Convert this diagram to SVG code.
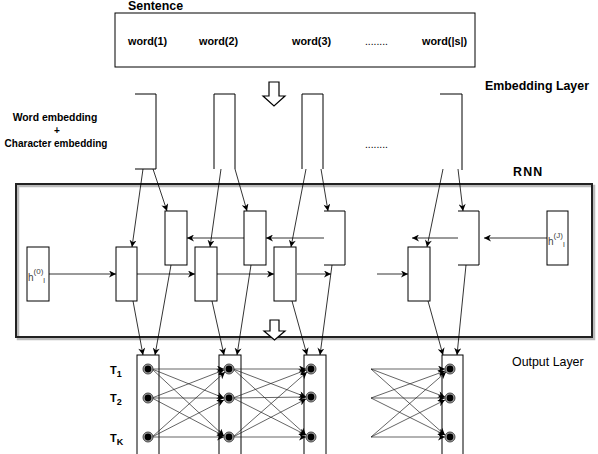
<svg xmlns="http://www.w3.org/2000/svg" width="598" height="454" viewBox="0 0 598 454">
<style>
.b{fill:none;stroke:#000;stroke-width:1}
.t{font-family:"Liberation Sans",Arial,sans-serif;font-weight:bold;fill:#000}
.r{font-family:"Liberation Sans",Arial,sans-serif;fill:#000}
.h{font-family:"Liberation Sans",Arial,sans-serif;fill:#444;font-size:10px}
.c line{stroke:#000;stroke-width:0.8;marker-end:url(#ah)}
.x line{stroke:#222;stroke-width:0.7;marker-end:url(#ah)}
.hol{fill:#fff;stroke:#000;stroke-width:1.2}
</style>
<defs>
<marker id="ah" viewBox="0 0 10 10" refX="10" refY="5" markerWidth="8" markerHeight="7" orient="auto" markerUnits="userSpaceOnUse">
<path d="M0,0 L10,5 L0,10 L3,5 z" fill="#000"/>
</marker>
<g id="nd"><circle r="5" fill="#aaa" stroke="#222" stroke-width="0.8"/><circle r="3.4" fill="#000"/></g>
</defs>
<rect width="598" height="454" fill="#fff"/>

<g id="sentence">
<text class="t" x="128" y="10" font-size="12.4">Sentence</text>
<rect class="b" x="115" y="13" width="360" height="54"/>
<text class="t" x="128" y="45" font-size="10.8">word(1)</text>
<text class="t" x="199" y="45" font-size="10.8">word(2)</text>
<text class="t" x="292" y="45" font-size="10.8">word(3)</text>
<text class="r" x="365" y="45" font-size="10.3">........</text>
<text class="t" x="422" y="45" font-size="10.8">word(|s|)</text>
</g>

<g id="arrow1"><path class="hol" d="M269,82 H279 V96 H285 L274,106 L263,96 H269 Z"/></g>

<g id="embedding">
<text class="t" x="485" y="90" font-size="12.4">Embedding Layer</text>
<text class="t" x="55" y="121" font-size="10.4" text-anchor="middle">Word embedding</text>
<text class="t" x="57" y="134" font-size="10" text-anchor="middle">+</text>
<text class="t" x="56" y="147" font-size="10" text-anchor="middle">Character embedding</text>
<path class="b" d="M135,94 H156 V169 H135"/>
<path class="b" d="M214,169 V94 H235 V169"/>
<path class="b" d="M302,169 V94 H323 V169"/>
<path class="b" d="M440,94 H462 V170"/>
<text class="r" x="365" y="148" font-size="10.3">........</text>
</g>

<g id="rnn">
<text class="t" x="513" y="176" font-size="12.4" letter-spacing="1.2">RNN</text>
<rect x="18" y="186" width="576" height="153" fill="none" stroke="#bbb" stroke-width="2.5"/>
<rect x="16" y="184" width="576" height="153" fill="none" stroke="#222" stroke-width="2"/>
</g>

<g id="h0"><rect class="b" x="27" y="247" width="22" height="54"/>
<text class="h" x="28" y="281">h<tspan dy="-7" font-size="8">(0)</tspan><tspan dy="9" font-size="8">l</tspan></text></g>
<g id="f1"><rect class="b" x="116" y="247" width="21" height="54"/></g>
<g id="f2"><rect class="b" x="195" y="247" width="22" height="54"/></g>
<g id="f3"><rect class="b" x="274" y="247" width="22" height="54"/></g>
<g id="f4"><rect class="b" x="408" y="247" width="22" height="54"/></g>
<g id="b1"><rect class="b" x="165" y="211" width="22" height="54"/></g>
<g id="b2"><rect class="b" x="244" y="211" width="22" height="54"/></g>
<g id="b3"><path class="b" d="M324,211 H345 V265 H324"/></g>
<g id="b4"><path class="b" d="M458,211 H479 V265 H458"/></g>
<g id="hJ"><rect class="b" x="547" y="211" width="21" height="54"/>
<text class="h" x="548" y="245">h<tspan dy="-7" font-size="8">(J)</tspan><tspan dy="9" font-size="8">l</tspan></text></g>

<g id="arrow2"><path class="hol" d="M270,320 H279 V331 H285 L274.5,340 L264,331 H270 Z"/></g>

<g id="output">
<text class="r" x="512" y="366" font-size="12.4">Output Layer</text>
<text class="t" x="110" y="374" font-size="11">T<tspan dy="3" font-size="9">1</tspan></text>
<text class="t" x="110" y="402" font-size="11">T<tspan dy="3" font-size="9">2</tspan></text>
<text class="t" x="110" y="442" font-size="11">T<tspan dy="3" font-size="9">K</tspan></text>
<rect class="b" x="137" y="355" width="22" height="110"/>
<rect class="b" x="219" y="355" width="22" height="110"/>
<rect class="b" x="304" y="355" width="22" height="110"/>
<rect class="b" x="442" y="355" width="21" height="110"/>
</g>

<g id="connectors">
<g class="c">
<line x1="49" y1="274" x2="116" y2="274"/>
<line x1="137" y1="274" x2="195" y2="274"/>
<line x1="217" y1="274" x2="274" y2="274"/>
<line x1="297" y1="274" x2="331" y2="274"/>
<line x1="377" y1="274" x2="408" y2="274"/>
<line x1="244" y1="238" x2="187" y2="238"/>
<line x1="324" y1="238" x2="266" y2="238"/>
<line x1="458" y1="238" x2="412" y2="238"/>
<line x1="547" y1="238" x2="484" y2="238"/>
<line x1="143" y1="169" x2="132" y2="247"/>
<line x1="153" y1="169" x2="167" y2="211"/>
<line x1="221" y1="169" x2="210" y2="247"/>
<line x1="235" y1="169" x2="247" y2="211"/>
<line x1="306" y1="169" x2="291" y2="247"/>
<line x1="321" y1="169" x2="328" y2="211"/>
<line x1="443" y1="169" x2="427" y2="247"/>
<line x1="458" y1="169" x2="463" y2="211"/>
<line x1="133" y1="301" x2="143" y2="355"/>
<line x1="171" y1="265" x2="155" y2="355"/>
<line x1="212" y1="301" x2="224" y2="355"/>
<line x1="251" y1="265" x2="237" y2="355"/>
<line x1="292" y1="301" x2="307" y2="355"/>
<line x1="332" y1="265" x2="320" y2="355"/>
<line x1="428" y1="301" x2="443" y2="355"/>
<line x1="466" y1="265" x2="457" y2="355"/>
</g>
<g class="x">
<line x1="152" y1="369" x2="224" y2="369"/><line x1="152" y1="369" x2="224" y2="398"/><line x1="152" y1="369" x2="224" y2="436"/>
<line x1="152" y1="398" x2="224" y2="370"/><line x1="152" y1="398" x2="224" y2="398"/><line x1="152" y1="398" x2="224" y2="436"/>
<line x1="152" y1="437" x2="225" y2="372"/><line x1="152" y1="437" x2="224" y2="400"/><line x1="152" y1="437" x2="224" y2="437"/>
<line x1="233" y1="369" x2="306" y2="369"/><line x1="233" y1="369" x2="306" y2="397"/><line x1="233" y1="369" x2="306" y2="435"/>
<line x1="233" y1="398" x2="306" y2="370"/><line x1="233" y1="398" x2="306" y2="397"/><line x1="233" y1="398" x2="306" y2="435"/>
<line x1="233" y1="437" x2="307" y2="372"/><line x1="233" y1="437" x2="306" y2="399"/><line x1="233" y1="437" x2="306" y2="437"/>
<line x1="371" y1="369" x2="445" y2="369"/><line x1="371" y1="369" x2="445" y2="397"/><line x1="371" y1="369" x2="445" y2="435"/>
<line x1="371" y1="398" x2="445" y2="371"/><line x1="371" y1="398" x2="445" y2="398"/><line x1="371" y1="398" x2="445" y2="435"/>
<line x1="371" y1="437" x2="446" y2="372"/><line x1="371" y1="437" x2="445" y2="400"/><line x1="371" y1="437" x2="445" y2="437"/>
</g>
</g>

<g id="nodes">
<use href="#nd" x="148" y="369"/><use href="#nd" x="148" y="398"/><use href="#nd" x="148" y="437"/>
<use href="#nd" x="229" y="369"/><use href="#nd" x="229" y="398"/><use href="#nd" x="229" y="437"/>
<use href="#nd" x="311" y="369"/><use href="#nd" x="311" y="397"/><use href="#nd" x="311" y="437"/>
<use href="#nd" x="450" y="369"/><use href="#nd" x="450" y="398"/><use href="#nd" x="450" y="437"/>
</g>
</svg>
